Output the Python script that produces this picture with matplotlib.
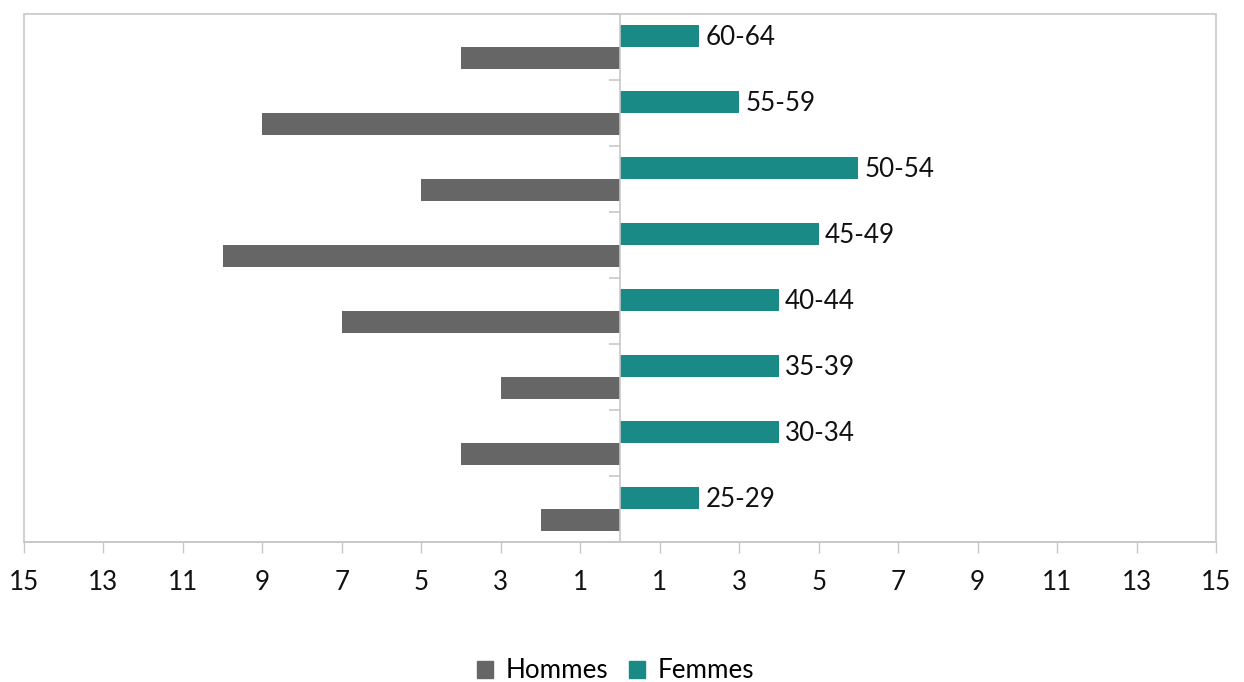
import matplotlib.pyplot as plt
from matplotlib.patches import Rectangle, Patch

plt.rcParams['font.family'] = ['Lato', 'DejaVu Sans']

age_groups = ['25-29', '30-34', '35-39', '40-44', '45-49', '50-54', '55-59', '60-64']
hommes = [2, 4, 3, 7, 10, 5, 9, 4]
femmes = [2, 4, 4, 4, 5, 6, 3, 2]
tick_values = list(range(-15, 16, 2))

grey = '#666666'
teal = '#1a8a87'
frame = '#c8c8c8'

fig = plt.figure(figsize=(12.44, 6.82), dpi=100)
ax = fig.add_axes([24 / 1244, 1 - 542 / 682, 1192 / 1244, 528 / 682])

h = 0.34
ypos = list(range(len(age_groups)))
ax.barh([y - h / 2 for y in ypos], [-v for v in hommes], height=h, color=grey, label='Hommes')
ax.barh([y + h / 2 for y in ypos], femmes, height=h, color=teal, label='Femmes')

# age group labels at the end of the femmes bars
for y, v, lab in zip(ypos, femmes, age_groups):
    ax.text(v + 0.15, y + h / 2 - 0.03, lab, va='center', ha='left', fontsize=18.7, color='#111111')

ax.set_xlim(-15, 15)
ax.set_ylim(-0.5, len(age_groups) - 0.5)
ax.set_xticks(tick_values)
ax.set_xticklabels([str(abs(t)) for t in tick_values], fontsize=18.7, color='#111111')
ax.tick_params(axis='x', length=8, width=1, color=frame, pad=12)

# vertical axis at zero with ticks at category boundaries
ax.spines['left'].set_position(('data', 0))
ax.set_yticks([k - 0.5 for k in range(len(age_groups) + 1)])
ax.set_yticklabels([])
ax.tick_params(axis='y', length=8, width=1.2, color=frame)
for s in ax.spines.values():
    s.set_color(frame)
    s.set_linewidth(1.2)
ax.spines['top'].set_visible(False)
ax.spines['right'].set_visible(False)

# plot frame
ax.add_patch(Rectangle((0, 0), 1, 1, transform=ax.transAxes, fill=False,
                       edgecolor=frame, linewidth=1.2, clip_on=False, zorder=0))

handles = [Patch(color=grey, label='Hommes'), Patch(color=teal, label='Femmes')]
fig.legend(handles=handles, loc='center', bbox_to_anchor=(0.495, 1 - 671 / 682), ncol=2,
           frameon=False, fontsize=18.7, handlelength=0.6, handleheight=0.6,
           handletextpad=0.5, columnspacing=0.8)

fig.savefig('out.png', dpi=100)
